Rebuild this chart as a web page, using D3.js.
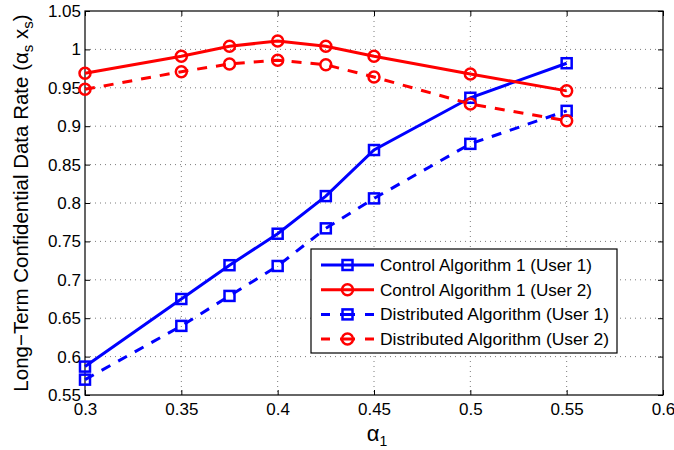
<!DOCTYPE html>
<html><head><meta charset="utf-8">
<script src="https://cdn.jsdelivr.net/npm/d3@7"></script>
<style>body{margin:0;background:#fff}svg{font-family:"Liberation Sans",Arial,sans-serif}</style>
</head><body><svg id="c" width="674" height="450"></svg>
<script>
const xValues = [0.3, 0.35, 0.375, 0.4, 0.425, 0.45, 0.5, 0.55];
const controlUser1 = [0.587, 0.675, 0.719, 0.760, 0.809, 0.869, 0.937, 0.982];
const controlUser2 = [0.969, 0.991, 1.004, 1.011, 1.004, 0.991, 0.968, 0.946];
const distUser1 = [0.570, 0.640, 0.679, 0.718, 0.767, 0.806, 0.877, 0.920];
const distUser2 = [0.948, 0.971, 0.981, 0.986, 0.980, 0.964, 0.929, 0.907];
const xTicks = [0.3, 0.35, 0.4, 0.45, 0.5, 0.55, 0.6];
const yTicks = [0.55, 0.6, 0.65, 0.7, 0.75, 0.8, 0.85, 0.9, 0.95, 1, 1.05];
const seriesNames = ["Control Algorithm 1 (User 1)", "Control Algorithm 1 (User 2)", "Distributed Algorithm (User 1)", "Distributed Algorithm (User 2)"];

const svg = d3.select("#c");
const L = 85, R = 663, T = 11, B = 395;
const x = d3.scaleLinear().domain([0.3, 0.6]).range([L, R]);
const y = d3.scaleLinear().domain([0.55, 1.05]).range([B, T]);

// grid
const g = svg.append("g");
g.selectAll(".gx").data(xTicks.slice(1, -1)).join("line")
  .attr("x1", d => x(d)).attr("x2", d => x(d)).attr("y1", T).attr("y2", B)
  .attr("stroke", "#444").attr("stroke-width", 0.7).attr("stroke-dasharray", "1,4");
g.selectAll(".gy").data(yTicks.slice(1, -1)).join("line")
  .attr("y1", d => y(d)).attr("y2", d => y(d)).attr("x1", L).attr("x2", R)
  .attr("stroke", "#444").attr("stroke-width", 0.7).attr("stroke-dasharray", "1,4");

// axes
const fmt = d => d3.format("")(+d.toFixed(2));
const xa = svg.append("g").attr("transform", `translate(0,${B})`)
  .call(d3.axisBottom(x).tickValues(xTicks).tickSizeInner(-5).tickSizeOuter(0).tickPadding(8).tickFormat(fmt));
const xa2 = svg.append("g").attr("transform", `translate(0,${T})`)
  .call(d3.axisTop(x).tickValues(xTicks).tickSizeInner(-5).tickSizeOuter(0).tickFormat(""));
const ya = svg.append("g").attr("transform", `translate(${L},0)`)
  .call(d3.axisLeft(y).tickValues(yTicks).tickSizeInner(-5).tickSizeOuter(0).tickPadding(4).tickFormat(fmt));
const ya2 = svg.append("g").attr("transform", `translate(${R},0)`)
  .call(d3.axisRight(y).tickValues(yTicks).tickSizeInner(-5).tickSizeOuter(0).tickFormat(""));
[xa, xa2, ya, ya2].forEach(a => {
  a.select(".domain").remove();
  a.selectAll("line").attr("stroke", "#000");
  a.selectAll("text").attr("font-size", 17).attr("fill", "#000").attr("font-family", "Liberation Sans, Arial, sans-serif");
});
svg.append("rect").attr("x", L).attr("y", T).attr("width", R - L).attr("height", B - T)
  .attr("fill", "none").attr("stroke", "#000").attr("stroke-width", 1.2);

// series
const series = [
  {vals: controlUser1, color: "#0000ff", dash: null, marker: "square"},
  {vals: controlUser2, color: "#ff0000", dash: null, marker: "circle"},
  {vals: distUser1, color: "#0000ff", dash: "10,9", marker: "square"},
  {vals: distUser2, color: "#ff0000", dash: "10,9", marker: "circle"}
];
const line = d3.line().x(d => x(d[0])).y(d => y(d[1]));
function drawMarker(sel, type, color, cx, cy) {
  if (type === "square") {
    sel.append("rect").attr("x", cx - 5).attr("y", cy - 5).attr("width", 10).attr("height", 10)
      .attr("fill", "none").attr("stroke", color).attr("stroke-width", 2.5);
  } else {
    sel.append("circle").attr("cx", cx).attr("cy", cy).attr("r", 5.5)
      .attr("fill", "none").attr("stroke", color).attr("stroke-width", 2.5);
  }
}
series.forEach(s => {
  const pts = xValues.map((v, i) => [v, s.vals[i]]);
  svg.append("path").attr("d", line(pts)).attr("fill", "none").attr("stroke", s.color)
    .attr("stroke-width", 3).attr("stroke-dasharray", s.dash);
  const mg = svg.append("g");
  pts.forEach(p => drawMarker(mg, s.marker, s.color, x(p[0]), y(p[1])));
});

// legend
const lg = svg.append("g");
lg.append("rect").attr("x", 311).attr("y", 249).attr("width", 306).attr("height", 104)
  .attr("fill", "#fff").attr("stroke", "#000").attr("stroke-width", 1.2);
series.forEach((s, i) => {
  const yy = 265 + i * 24.7;
  lg.append("line").attr("x1", 321).attr("x2", 374).attr("y1", yy).attr("y2", yy)
    .attr("stroke", s.color).attr("stroke-width", 3).attr("stroke-dasharray", s.dash ? "9,10,15,10,9" : null);
  drawMarker(lg, s.marker, s.color, 347.5, yy);
  lg.append("text").attr("x", 380).attr("y", yy + 6).attr("font-size", 17).attr("fill", "#000")
    .attr("textLength", i < 2 ? 212 : 229).attr("lengthAdjust", "spacingAndGlyphs")
    .text(seriesNames[i]);
});

// axis labels
const xl = svg.append("text").attr("x", 377).attr("y", 441).attr("font-size", 22).attr("text-anchor", "middle").attr("fill", "#000");
xl.append("tspan").text("α");
xl.append("tspan").attr("font-size", 14).attr("dy", 5).text("1");

const yl = svg.append("text").attr("transform", "translate(28,203) rotate(-90)").attr("text-anchor", "middle")
  .attr("font-size", 20.5).attr("fill", "#000");
yl.append("tspan").text("Long−Term Confidential Data Rate (α");
yl.append("tspan").attr("font-size", 15).attr("dy", 5).text("s");
yl.append("tspan").attr("dy", -5).text(" x");
yl.append("tspan").attr("font-size", 15).attr("dy", 5).text("s");
yl.append("tspan").attr("dy", -5).text(")");
</script></body></html>
